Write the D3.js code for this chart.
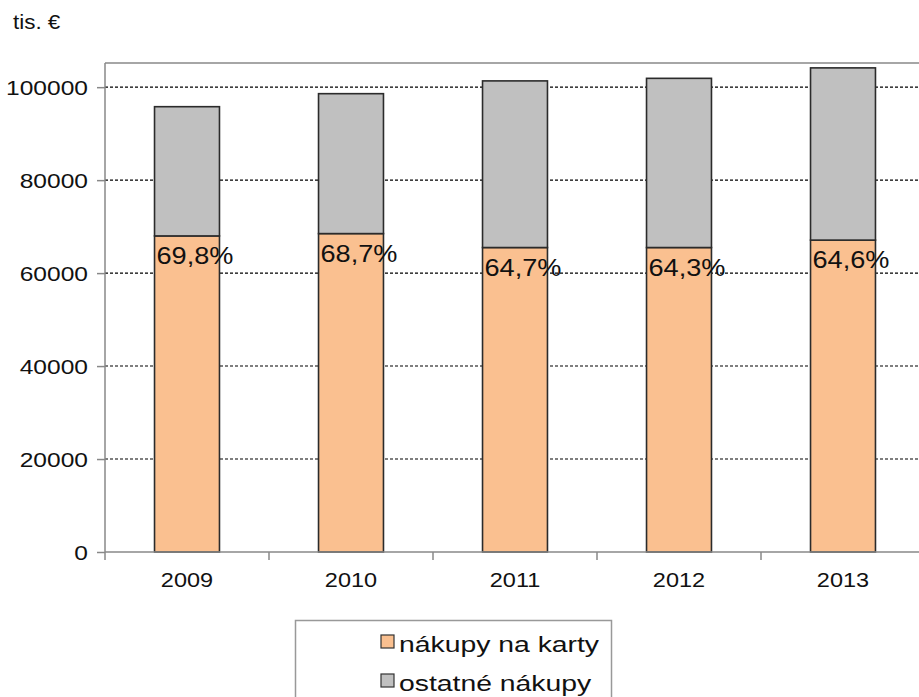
<!DOCTYPE html>
<html>
<head>
<meta charset="utf-8">
<script src="https://cdn.jsdelivr.net/npm/d3@7/dist/d3.min.js"></script>
<style>
  html, body { margin: 0; padding: 0; background: #fff; }
  svg { display: block; font-family: "Liberation Sans", Arial, sans-serif; }
</style>
</head>
<body>
<svg id="chart" width="919" height="697"></svg>
<script>
// ---- data ----
const years = ["2009", "2010", "2011", "2012", "2013"];
const cardPurchases = [68000, 68500, 65500, 65500, 67100];   // nákupy na karty
const otherPurchases = [27800, 30100, 35850, 36400, 37050];  // ostatné nákupy
const shareLabels = ["69,8%", "68,7%", "64,7%", "64,3%", "64,6%"];
const yTicks = [0, 20000, 40000, 60000, 80000, 100000];
const seriesNames = ["nákupy na karty", "ostatné nákupy"];
const unitLabel = "tis. €";

// ---- layout ----
const W = 919, H = 697;
const plotLeft = 105, plotRight = 925, plotBottom = 552, plotTop = 63;
const colors = ["#FAC090", "#C0C0C0"];

const svg = d3.select("#chart");

const x = d3.scaleBand().domain(years).range([plotLeft, plotRight])
  .paddingInner(0.604).paddingOuter(0.302);
const y = d3.scaleLinear().domain([0, 105200]).range([plotBottom, plotTop]);

function stext(g, tx, ty, str, size, anchor, sx) {
  return g.append("text")
    .attr("transform", `translate(${tx},${ty}) scale(${sx},1)`)
    .attr("text-anchor", anchor || "start")
    .attr("font-size", size)
    .attr("fill", "#111")
    .text(str);
}

// frame top line
svg.append("line")
  .attr("x1", plotLeft).attr("x2", W)
  .attr("y1", y(105200)).attr("y2", y(105200))
  .attr("stroke", "#a6a6a6").attr("stroke-width", 2);

// gridlines (dashed)
svg.append("g").selectAll("line")
  .data(yTicks.filter(d => d > 0))
  .join("line")
  .attr("x1", plotLeft).attr("x2", W)
  .attr("y1", d => y(d)).attr("y2", d => y(d))
  .attr("stroke", "#000").attr("stroke-width", 1.1)
  .attr("stroke-dasharray", "3,2");

// stacked bars
const stackData = years.map((yr, i) => ({ year: yr, card: cardPurchases[i], other: otherPurchases[i] }));
const stack = d3.stack().keys(["card", "other"])(stackData);

svg.append("g").selectAll("g")
  .data(stack)
  .join("g")
  .attr("fill", (d, i) => colors[i])
  .selectAll("rect")
  .data(d => d)
  .join("rect")
  .attr("x", d => x(d.data.year))
  .attr("width", x.bandwidth())
  .attr("y", d => y(d[1]))
  .attr("height", d => y(d[0]) - y(d[1]))
  .attr("stroke", "#2b2b2b")
  .attr("stroke-width", 1.6);

// y axis
const yAxis = d3.axisLeft(y).tickValues(yTicks).tickSize(8).tickSizeOuter(0).tickFormat(d3.format("d"));
const gy = svg.append("g").attr("transform", `translate(${plotLeft},0)`).call(yAxis);
gy.select(".domain").remove();
gy.selectAll(".tick line").attr("stroke", "#888").attr("stroke-width", 1.5);
gy.selectAll(".tick text").remove();
gy.selectAll(".tick").each(function (d) {
  stext(d3.select(this), -17, 7.5, String(d), 21, "end", 1.17);
});
svg.append("line")
  .attr("x1", plotLeft).attr("x2", plotLeft)
  .attr("y1", y(105200)).attr("y2", plotBottom + 8)
  .attr("stroke", "#888").attr("stroke-width", 1.5);

// x axis line
svg.append("line")
  .attr("x1", plotLeft).attr("x2", W)
  .attr("y1", plotBottom).attr("y2", plotBottom)
  .attr("stroke", "#888").attr("stroke-width", 1.5);
// x category boundary ticks
const gap = (x.step() - x.bandwidth()) / 2;
svg.append("g").selectAll("line")
  .data(years.slice(1))
  .join("line")
  .attr("x1", d => x(d) - gap)
  .attr("x2", d => x(d) - gap)
  .attr("y1", plotBottom).attr("y2", plotBottom + 8)
  .attr("stroke", "#888").attr("stroke-width", 1.5);
// x labels
const gx = svg.append("g");
years.forEach(yr => {
  stext(gx, x(yr) + x.bandwidth() / 2, 587, yr, 21, "middle", 1.12);
});

// percentage labels
const gl = svg.append("g");
years.forEach((yr, i) => {
  stext(gl, x(yr) + 2, y(cardPurchases[i]) + 28, shareLabels[i], 23, "start", 1.18);
});

// unit label
stext(svg, 13, 29, unitLabel, 20, "start", 1.12);

// legend
const lg = svg.append("g");
lg.append("rect")
  .attr("x", 295.5).attr("y", 620.5)
  .attr("width", 316).attr("height", 90)
  .attr("fill", "#fff").attr("stroke", "#999").attr("stroke-width", 1.5);
seriesNames.forEach((name, i) => {
  const ry = 635 + i * 39;
  lg.append("rect")
    .attr("x", 381).attr("y", ry)
    .attr("width", 13).attr("height", 13)
    .attr("fill", colors[i]).attr("stroke", "#333").attr("stroke-width", 1.2);
  stext(lg, 399, ry + 17, name, 22.5, "start", 1.26);
});
</script>
</body>
</html>
